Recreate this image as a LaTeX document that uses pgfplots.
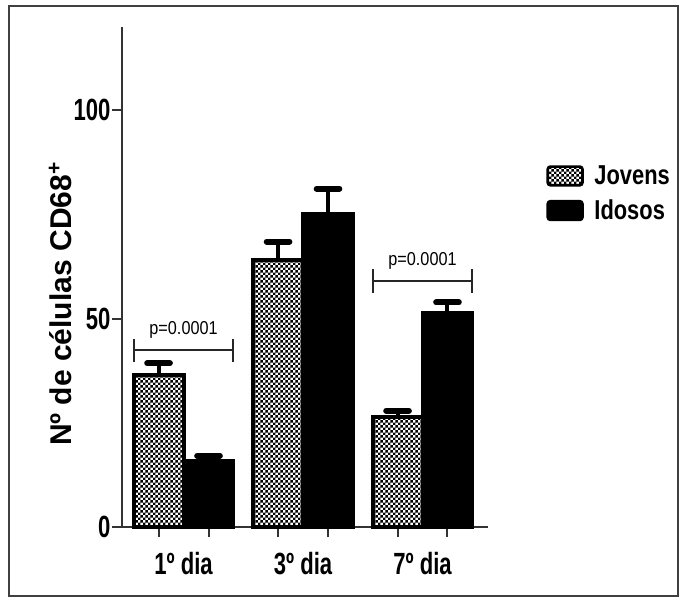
\documentclass[border=0pt]{standalone}
\usepackage{fontspec}
\setmainfont{Liberation Sans}
\newfontfamily\narrowfont[FakeStretch=0.72]{Liberation Sans}
\newfontfamily\legfont[FakeStretch=0.8]{Liberation Sans}
\newfontfamily\pfont[FakeStretch=0.87]{Liberation Sans}
\usepackage{pgfplots}
\pgfplotsset{compat=1.18}
\usetikzlibrary{patterns}
\pgfdeclarepatternformonly{mychecker}{\pgfpointorigin}{\pgfqpoint{4pt}{4pt}}{\pgfqpoint{4pt}{4pt}}{%
  \pgfpathrectangle{\pgfpointorigin}{\pgfqpoint{2pt}{2pt}}%
  \pgfpathrectangle{\pgfqpoint{2pt}{2pt}}{\pgfqpoint{2pt}{2pt}}%
  \pgfusepath{fill}}

\pgfplotstableread{
x y e
0.791 36.5 2.8
1.791 64.0 4.5
2.791 26.3 1.6
}\jovens
\pgfplotstableread{
x y e
1.209 15.8 1.3
2.209 75.0 6.2
3.209 51.3 2.6
}\idosos

\begin{document}
\begin{tikzpicture}
\useasboundingbox (-91.5pt,-54pt) rectangle (419.25pt,395.25pt);
\draw[line width=2pt, black!75] (-84.75pt,-51.75pt) rectangle (417pt,390.75pt);
\begin{axis}[
  at={(0pt,0pt)}, anchor=south west,
  scale only axis, width=274.5pt, height=375pt,
  xmin=0.485, xmax=3.548, ymin=0, ymax=120,
  clip=false,
  axis x line=bottom, axis y line=left,
  axis line style={-, line width=1.5pt, black!80},
  tick align=outside, major tick length=7.5pt,
  tick style={line width=1.5pt, black!80},
  xtick={0.791,1.209,1.791,2.209,2.791,3.209}, xticklabels={},
  extra x ticks={1,2,3},
  extra x tick labels={1º dia,3º dia,7º dia},
  extra x tick style={major tick length=0pt, tick style={draw=none},
     xticklabel style={yshift=-18pt}},
  ytick={0,50,100}, yticklabels={0,50,100},
  ticklabel style={font=\narrowfont\bfseries\fontsize{23}{23}\selectfont, inner sep=1pt},
  ylabel={Nº de células CD68\textsuperscript{+}},
  ylabel style={font=\bfseries\fontsize{22.5}{22.5}\selectfont,
     at={(axis description cs:-0.169,0.446)}, anchor=center},
  legend style={draw=none, fill=none, at={(axis description cs:1.148,0.667)},
     anchor=west, font=\legfont\bfseries\fontsize{20.5}{20.5}\selectfont, row sep=6pt,
     nodes={inner sep=2pt},
     /tikz/every odd column/.append style={column sep=6pt}},
  legend cell align=left,
]
\addlegendimage{legend image code/.code={\draw[pattern=mychecker, draw=black, line width=2pt, rounded corners=2pt] (0pt,-7pt) rectangle (26pt,7pt);}}
\addlegendentry{Jovens}
\addlegendimage{legend image code/.code={\draw[fill=black, draw=black, line width=2pt, rounded corners=2pt] (0pt,-7pt) rectangle (26pt,7pt);}}
\addlegendentry{Idosos}

\addplot[ybar, bar width=0.418, bar shift=0pt, draw=black, line width=3pt,
  pattern=mychecker, forget plot,
  error bars/.cd, y dir=plus, y explicit,
  error bar style={line width=3pt, black},
  error mark options={rotate=90, mark size=8.5pt, line width=4.5pt, line cap=round}]
  table[x=x, y=y, y error=e] {\jovens};
\addplot[ybar, bar width=0.418, bar shift=0pt, draw=black, line width=3pt,
  fill=black, forget plot,
  error bars/.cd, y dir=plus, y explicit,
  error bar style={line width=3pt, black},
  error mark options={rotate=90, mark size=8.5pt, line width=4.5pt, line cap=round}]
  table[x=x, y=y, y error=e] {\idosos};

% significance brackets
\draw[line width=1.5pt, black!85] (axis cs:0.582,42.4) -- (axis cs:1.418,42.4);
\draw[line width=1.5pt, black!85] (axis cs:0.582,39.6) -- (axis cs:0.582,45.2);
\draw[line width=1.5pt, black!85] (axis cs:1.418,39.6) -- (axis cs:1.418,45.2);
\node[font=\pfont\fontsize{14}{14}\selectfont] at (axis cs:1,47.3) {p=0.0001};
\draw[line width=1.5pt, black!85] (axis cs:2.582,59.0) -- (axis cs:3.418,59.0);
\draw[line width=1.5pt, black!85] (axis cs:2.582,56.2) -- (axis cs:2.582,61.8);
\draw[line width=1.5pt, black!85] (axis cs:3.418,56.2) -- (axis cs:3.418,61.8);
\node[font=\pfont\fontsize{14}{14}\selectfont] at (axis cs:3,63.8) {p=0.0001};
\end{axis}
\end{tikzpicture}
\end{document}
